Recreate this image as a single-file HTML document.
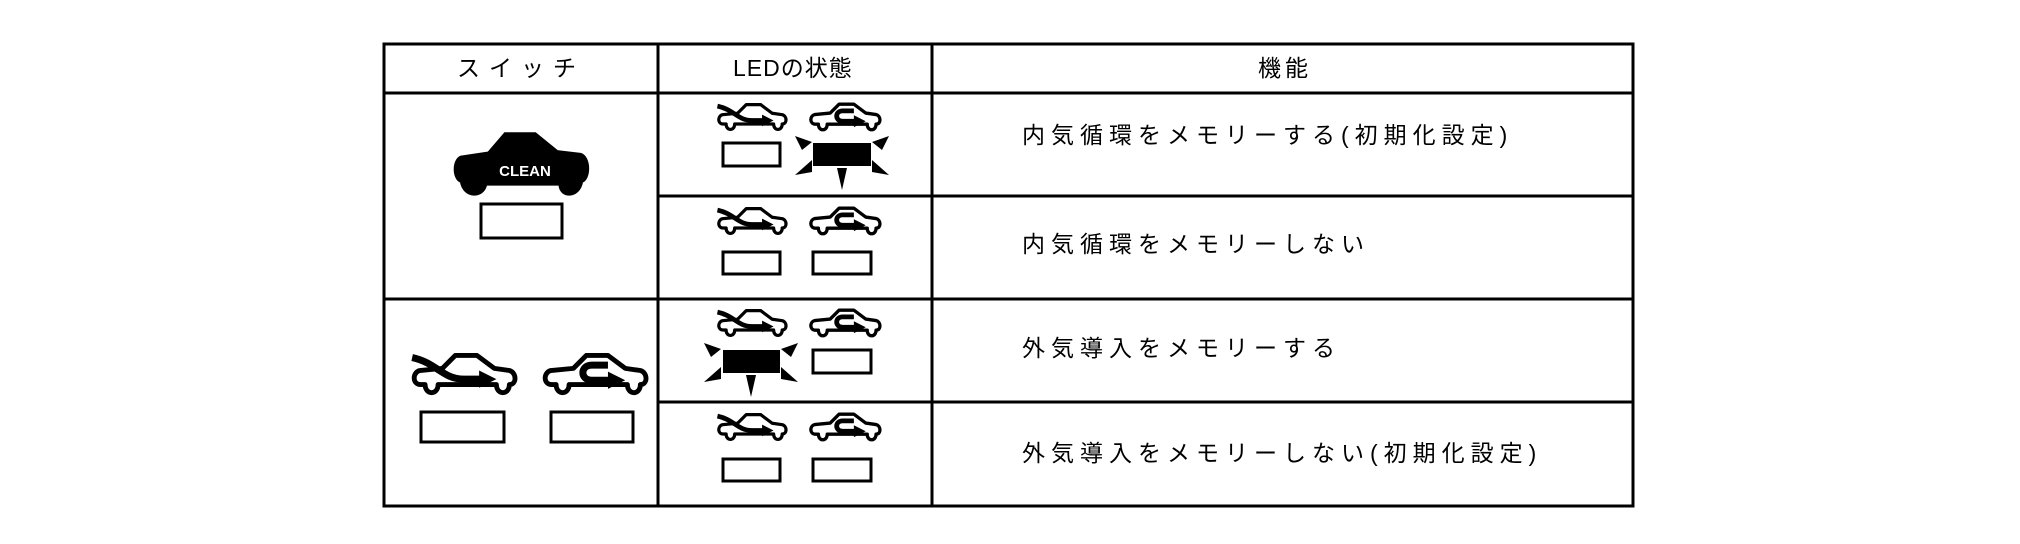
<!DOCTYPE html>
<html><head><meta charset="utf-8">
<style>
html,body{margin:0;padding:0;background:#fff;}
body{width:2020px;height:544px;position:relative;overflow:hidden;font-family:"Liberation Sans","Noto Sans CJK JP",sans-serif;}
.t{position:absolute;font-size:23px;color:#000;white-space:nowrap;line-height:1;}
</style></head><body>
<svg width="2020" height="544" style="position:absolute;left:0;top:0">
<defs>
<symbol id="car" viewBox="0 0 100 46">
<path d="M10,30 C2,30 2,19 9,17 L30,15 L42,3 L62,3 L78,15 L92,17 C99,19 99,30 92,30 C92,40 80,40 80,30 L26,30 C26,40 14,40 14,30 Z" fill="none" stroke="#000" stroke-width="4.5" stroke-linejoin="round"/>
</symbol>
<symbol id="fresh" viewBox="0 0 100 46">
<use href="#car" width="100" height="46"/>
<path d="M2,5 C25,10 30,25 50,25 L66,25" fill="none" stroke="#000" stroke-width="6.5"/>
<polygon points="64,17 80,25 64,33" fill="#000"/>
</symbol>
<symbol id="recirc" viewBox="0 0 100 46">
<use href="#car" width="100" height="46"/>
<path d="M62,12 L47,12 C36,12 36,26 47,26 L64,26" fill="none" stroke="#000" stroke-width="6.5"/>
<polygon points="62,18 78,26 62,34" fill="#000"/>
</symbol>
<symbol id="cleancar" viewBox="0 0 100 50">
<path d="M6,36 C0,34 0,20 6,18 L26,15 L38,1 L60,1 L76,14 L93,16 C100,18 100,34 94,36 C92,48 78,48 78,38 L24,38 C22,48 8,48 6,36 Z" fill="#000" stroke="#000" stroke-width="2"/>
</symbol>
</defs>
<g fill="none" stroke="#000" stroke-width="3">
<rect x="384" y="44" width="1249" height="462"/>
<line x1="384" y1="93" x2="1633" y2="93"/>
<line x1="384" y1="299" x2="1633" y2="299"/>
<line x1="658" y1="196" x2="1633" y2="196"/>
<line x1="658" y1="402" x2="1633" y2="402"/>
<line x1="658" y1="44" x2="658" y2="506"/>
<line x1="932" y1="44" x2="932" y2="506"/>
</g>
<use href="#cleancar" x="453" y="132" width="137" height="69"/>
<text x="525" y="176" font-family="Liberation Sans" font-weight="bold" font-size="15" fill="#fff" text-anchor="middle">CLEAN</text>
<rect x="481" y="204" width="81" height="34" fill="none" stroke="#000" stroke-width="3"/>
<use href="#fresh" x="410" y="340" width="108" height="74"/>
<use href="#recirc" x="541" y="340" width="108" height="74"/>
<rect x="421" y="412" width="83" height="30" fill="none" stroke="#000" stroke-width="3"/>
<rect x="551" y="412" width="82" height="30" fill="none" stroke="#000" stroke-width="3"/>
<use href="#fresh" x="716" y="101" width="72" height="36"/>
<use href="#recirc" x="808" y="101" width="74" height="36"/>
<rect x="723" y="143" width="57" height="23" fill="none" stroke="#000" stroke-width="3"/>
<rect x="813" y="143" width="58" height="23" fill="#000"/>
<g fill="#000">
<polygon points="795,136 812,142 802,150"/><polygon points="889,136 872,142 882,150"/>
<polygon points="795,175 812,160 812,172"/><polygon points="889,175 872,160 872,172"/>
<polygon points="837,168 847,168 842,190"/>
</g>
<use href="#fresh" x="716" y="205" width="72" height="36"/>
<use href="#recirc" x="808" y="205" width="74" height="36"/>
<rect x="723" y="252" width="57" height="22" fill="none" stroke="#000" stroke-width="3"/>
<rect x="813" y="252" width="58" height="22" fill="none" stroke="#000" stroke-width="3"/>
<use href="#fresh" x="716" y="307" width="72" height="36"/>
<use href="#recirc" x="808" y="307" width="74" height="36"/>
<rect x="723" y="350" width="57" height="23" fill="#000"/>
<rect x="813" y="350" width="58" height="23" fill="none" stroke="#000" stroke-width="3"/>
<g fill="#000">
<polygon points="704,343 721,349 711,357"/><polygon points="798,343 781,349 791,357"/>
<polygon points="704,382 721,367 721,379"/><polygon points="798,382 781,367 781,379"/>
<polygon points="746,375 756,375 751,397"/>
</g>
<use href="#fresh" x="716" y="411" width="72" height="36"/>
<use href="#recirc" x="808" y="411" width="74" height="36"/>
<rect x="723" y="459" width="57" height="22" fill="none" stroke="#000" stroke-width="3"/>
<rect x="813" y="459" width="58" height="22" fill="none" stroke="#000" stroke-width="3"/>
</svg>
<div class="t" style="left:457px;top:57px;letter-spacing:9px;">スイッチ</div>
<div class="t" style="left:733px;top:57px;letter-spacing:1px;">LEDの状態</div>
<div class="t" style="left:1258px;top:57px;letter-spacing:4px;">機能</div>
<div class="t" style="left:1022px;top:124px;letter-spacing:6px;">内気循環をメモリーする(初期化設定)</div>
<div class="t" style="left:1022px;top:233px;letter-spacing:6px;">内気循環をメモリーしない</div>
<div class="t" style="left:1022px;top:337px;letter-spacing:6px;">外気導入をメモリーする</div>
<div class="t" style="left:1022px;top:442px;letter-spacing:6px;">外気導入をメモリーしない(初期化設定)</div>
</body></html>
